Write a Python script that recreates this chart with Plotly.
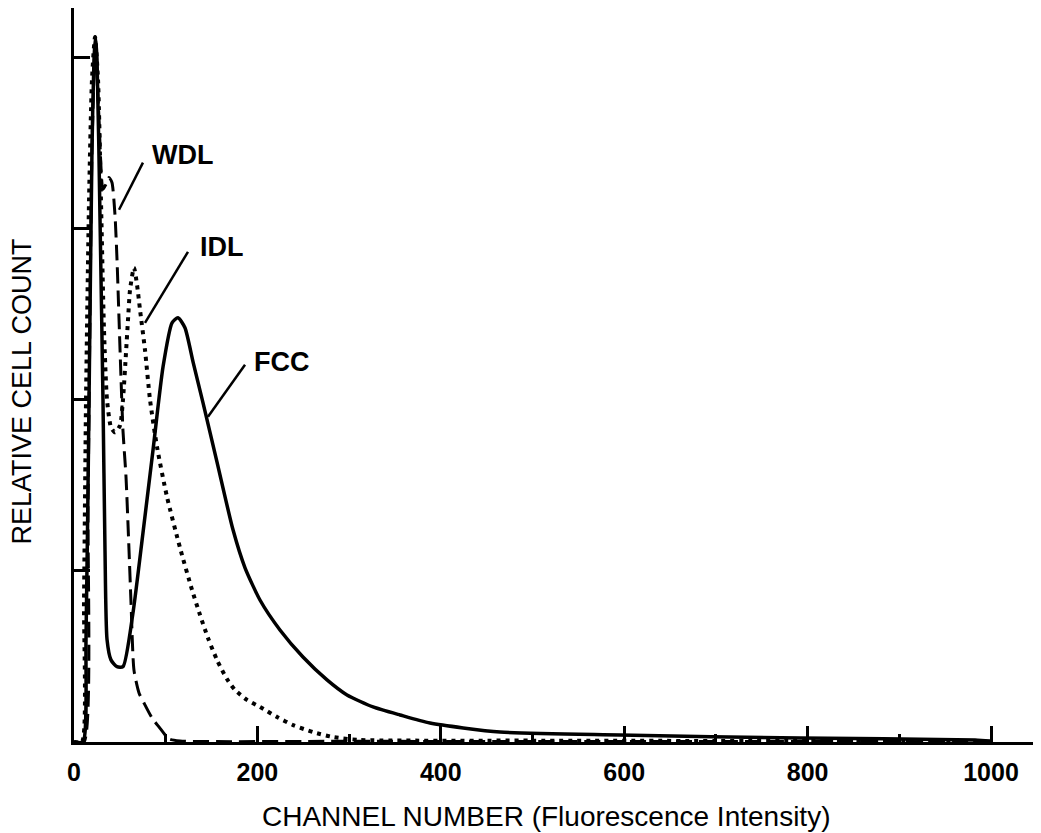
import plotly.graph_objects as go

# ---- data (channel number, relative cell count units) ----
fcc_x = [0, 9.8, 13.1, 16.4, 19.6, 21.8, 23.4, 25.1, 28.4, 31.6, 33.8, 36.0, 40.3, 46.9, 53.4,
         64.3, 75.2, 86.2, 97.1, 106.9, 113.4, 121.0, 129.8, 140.7, 155.9, 173.4, 186.5, 202.8,
         224.6, 249.7, 275.9, 297.7, 326.1, 355.5, 388.2, 464.6, 595.4, 791.7, 982.6, 999]
fcc_y = [0, 0, 0.6, 2.0, 3.46, 3.99, 4.12, 3.99, 3.05, 2.0, 1.12, 0.60, 0.48, 0.44, 0.44,
         0.754, 1.222, 1.708, 2.193, 2.450, 2.480, 2.421, 2.222, 1.982, 1.637, 1.240, 1.018, 0.830,
         0.655, 0.497, 0.363, 0.275, 0.205, 0.158, 0.111, 0.058, 0.041, 0.023, 0.012, 0.006]

wdl_x = [0, 10.9, 15.3, 19.6, 23.4, 27.3, 31.6, 34.9, 38.2, 41.4, 44.7, 46.9, 49.1, 51.3, 53.4,
         56.7, 60.0, 62.2, 65.4, 70.9, 76.3, 85.1, 92.7, 103.6, 115.6, 300, 600, 1000]
wdl_y = [0, 0, 1.42, 3.46, 4.10, 3.64, 3.23, 3.26, 3.30, 3.27, 3.08, 2.82, 2.47, 2.12, 1.82,
         1.55, 1.12, 0.81, 0.42, 0.287, 0.228, 0.140, 0.088, 0.018, 0.006, 0.004, 0.003, 0.002]

idl_x = [0, 8.7, 10.9, 13.1, 16.4, 19.6, 22.9, 26.2, 29.4, 32.7, 36.0, 40.3, 44.7, 50.2, 53.4,
         56.7, 58.9, 61.1, 65.4, 68.7, 72.0, 77.4, 82.9, 90.5, 101.4, 115.6, 128.7, 137.4, 146.1,
         155.9, 166.8, 175.6, 188.7, 202.8, 221.4, 238.8, 260.6, 282.4, 311.9, 500, 1000]
idl_y = [0, 0, 0.83, 2.0, 3.17, 3.87, 4.12, 3.87, 3.17, 2.41, 2.0, 1.84, 1.81, 1.85, 2.0,
         2.275, 2.468, 2.643, 2.772, 2.673, 2.526, 2.292, 2.000, 1.725, 1.433, 1.135, 0.889, 0.743, 0.608,
         0.480, 0.368, 0.304, 0.246, 0.205, 0.146, 0.099, 0.058, 0.029, 0.012, 0.008, 0.004]

x_ticks = [0, 200, 400, 600, 800, 1000]
y_ticks = [1, 2, 3, 4]

x_title = "CHANNEL NUMBER (Fluorescence Intensity)"
y_title = "RELATIVE CELL COUNT"

# labels: text, text anchor (x, y), leader line start / end
labels = [
    ("WDL", 82.9, 3.43, (75.2, 3.386), (49.1, 3.111)),
    ("IDL", 135.2, 2.895, (124.3, 2.865), (77.4, 2.450)),
    ("FCC", 194.1, 2.222, (186.5, 2.205), (146.1, 1.901)),
]

FONT = "Liberation Sans, Arial, Helvetica, sans-serif"

fig = go.Figure()
fig.add_trace(go.Scatter(x=wdl_x, y=wdl_y, mode="lines", name="WDL",
                         line=dict(color="black", width=3, dash="16px,7px", shape="spline", smoothing=0.6)))
fig.add_trace(go.Scatter(x=idl_x, y=idl_y, mode="lines", name="IDL",
                         line=dict(color="black", width=4, dash="4px,5px", shape="spline", smoothing=0.6)))
fig.add_trace(go.Scatter(x=fcc_x, y=fcc_y, mode="lines", name="FCC",
                         line=dict(color="black", width=3.5, shape="spline", smoothing=0.6)))

for text, tx, ty, (x0, y0), (x1, y1) in labels:
    fig.add_shape(type="line", x0=x0, y0=y0, x1=x1, y1=y1, xref="x", yref="y",
                  line=dict(color="black", width=2.5))
    fig.add_annotation(x=tx, y=ty, text=text, showarrow=False, xanchor="left", yanchor="middle",
                       font=dict(family=FONT, size=27, color="black", weight="bold"))

# axis titles as annotations (positioned to match the original off-centre placement)
fig.add_annotation(x=0.4886, y=-0.102, xref="paper", yref="paper", text=x_title, showarrow=False,
                   xanchor="center", yanchor="middle", font=dict(family=FONT, size=28, color="black"))
fig.add_annotation(x=-0.0538, y=0.4775, xref="paper", yref="paper", text=y_title, showarrow=False,
                   textangle=-90, xanchor="center", yanchor="middle",
                   font=dict(family=FONT, size=27, color="black"))

fig.update_layout(
    width=1033, height=825,
    margin=dict(l=66, r=0, t=0, b=91, autoexpand=False),
    paper_bgcolor="white", plot_bgcolor="white",
    showlegend=False,
    xaxis=dict(range=[0, 1054.5], showgrid=False, zeroline=False, automargin=False,
               showline=True, linecolor="black", linewidth=3,
               tickmode="array", tickvals=x_ticks, ticktext=[str(v) for v in x_ticks],
               ticks="inside", ticklen=16, tickwidth=2.5, tickcolor="black",
               ticklabelstandoff=6,
               minor=dict(dtick=100, tick0=0, ticks="inside", ticklen=8, tickwidth=2.5, tickcolor="black"),
               tickfont=dict(family=FONT, size=25, color="black", weight="bold")),
    yaxis=dict(range=[0, 4.29], showgrid=False, zeroline=False, automargin=False,
               showline=True, linecolor="black", linewidth=3,
               tickmode="array", tickvals=y_ticks, showticklabels=False,
               ticks="inside", ticklen=16, tickwidth=2.5, tickcolor="black"),
)

fig.write_html("out.html")
